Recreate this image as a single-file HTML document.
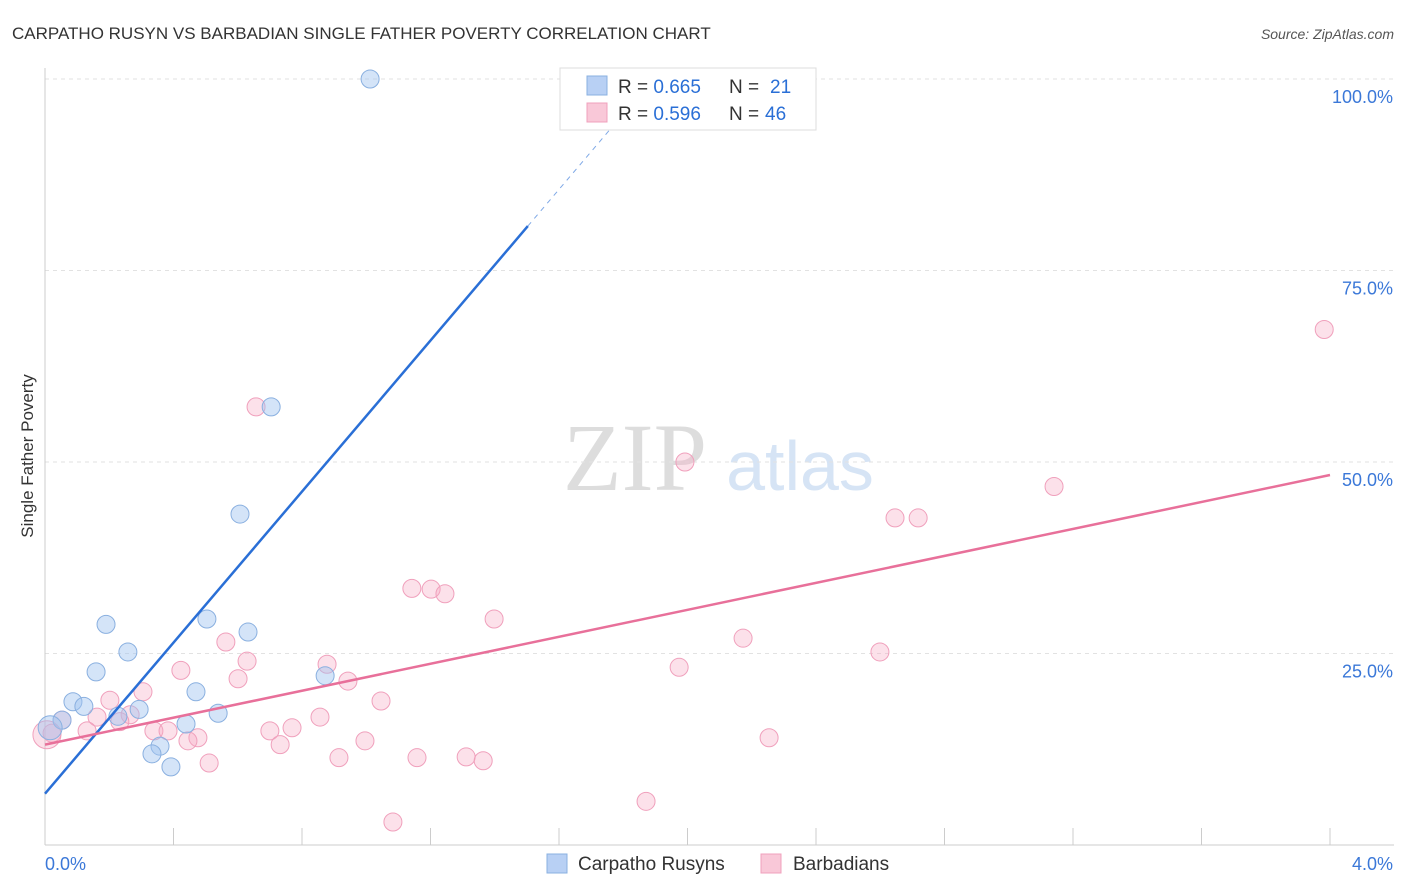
<!DOCTYPE html>
<html><head><meta charset="utf-8">
<style>
body{margin:0;background:#fff;font-family:"Liberation Sans",sans-serif;}
svg{display:block}
</style></head>
<body>
<svg id="chart" width="1406" height="892" xmlns="http://www.w3.org/2000/svg">
  <text x="12" y="39" font-size="17" fill="#333">CARPATHO RUSYN VS BARBADIAN SINGLE FATHER POVERTY CORRELATION CHART</text>
  <text x="1394" y="39" font-size="14" fill="#555" font-style="italic" text-anchor="end">Source: ZipAtlas.com</text>
  <text x="33" y="456" font-size="17" fill="#333" text-anchor="middle" transform="rotate(-90 33 456)">Single Father Poverty</text>
  <g>
    <text x="635" y="490" font-size="96" fill="#ddd" font-family="Liberation Serif,serif" text-anchor="middle">ZIP</text>
    <text x="800" y="490" font-size="70" fill="#d6e4f5" text-anchor="middle">atlas</text>
  </g>
  <g id="grid"></g>
  <g id="axes"></g>
  <g id="points"></g>
  <g id="lines"></g>
  <g>
    <rect x="560" y="68" width="256" height="62" fill="#fff" stroke="#ddd"/>
    <rect x="587" y="76" width="20" height="19" fill="#b8d0f4" stroke="#8ab0e0"/>
    <rect x="587" y="103" width="20" height="19" fill="#f9c8d8" stroke="#f0a0bc"/>
    <text x="618" y="93" font-size="19" fill="#333">R = <tspan fill="#2a6fd6">0.665</tspan><tspan x="729">N = </tspan><tspan x="770" fill="#2a6fd6">21</tspan></text>
    <text x="618" y="120" font-size="19" fill="#333">R = <tspan fill="#2a6fd6">0.596</tspan><tspan x="729">N = </tspan><tspan x="765" fill="#2a6fd6">46</tspan></text>
  </g>
  <g>
    <rect x="547" y="854" width="20" height="19" fill="#b8d0f4" stroke="#8ab0e0"/>
    <text x="578" y="870" font-size="19" fill="#333">Carpatho Rusyns</text>
    <rect x="761" y="854" width="20" height="19" fill="#f9c8d8" stroke="#f0a0bc"/>
    <text x="793" y="870" font-size="19" fill="#333">Barbadians</text>
  </g>
</svg>
<script>
const rusynX=[1.012,0.704,0.607,0.190,0.504,0.632,0.258,0.159,0.087,0.121,0.053,0.293,0.227,0.470,0.872,0.539,0.439,0.358,0.333,0.392,0.016];
const rusynY=[100,57.2,43.2,28.8,29.5,27.8,25.2,22.6,18.7,18.1,16.3,17.7,16.8,20.0,22.1,17.2,15.8,12.9,11.9,10.2,15.3];
const barbX=[3.982,1.992,3.141,2.646,2.718,1.142,1.202,1.245,1.398,0.657,0.563,2.173,2.599,1.974,0.629,0.423,0.878,0.601,0.943,0.305,0.202,1.046,0.162,0.265,0.856,0.769,0.700,0.339,0.383,0.476,0.445,0.732,0.996,2.254,0.915,1.158,1.311,1.364,0.511,1.871,1.083,0.053,0.022,0.006,0.131,0.233];
const barbY=[67.3,50.0,46.8,42.7,42.7,33.5,33.4,32.8,29.5,57.2,26.5,27.0,25.2,23.2,24.0,22.8,23.6,21.7,21.4,20.0,18.9,18.8,16.7,17.0,16.7,15.3,14.9,14.9,14.9,14.0,13.6,13.1,13.6,14.0,11.4,11.4,11.5,11.0,10.7,5.7,3.0,16.3,14.6,14.4,14.9,16.1];
const rusynLine=[6.7,80.8,1.503];
const barbLine=[13.1,48.3,4.0];
const yTicks=[25,50,75,100];
const xTickLabels=["0.0%","4.0%"];

const NS="http://www.w3.org/2000/svg";
const X=v=>45+v/0.4*128.5;
const Y=v=>845-v*7.66;
function mk(tag,attrs,parent){const e=document.createElementNS(NS,tag);for(const k in attrs)e.setAttribute(k,attrs[k]);document.getElementById(parent).appendChild(e);return e;}

yTicks.forEach(t=>{
  const l=mk('line',{x1:45,x2:1394,y1:Y(t),y2:Y(t),stroke:'#e2e2e2','stroke-dasharray':'4,4'},'grid');
  
  
  const tx=mk('text',{x:1393,y:Y(t)+24,'font-size':18,fill:'#3b78d8','text-anchor':'end'},'grid');
  tx.textContent=t.toFixed(1)+'%';
  
  
});
const ax=mk('line',{x1:45,x2:45,y1:68,y2:845,stroke:'#ccc'},'axes');


const bx=mk('line',{x1:45,x2:1394,y1:845,y2:845,stroke:'#ccc'},'axes');


for(let i=1;i<=10;i++){
  const t=mk('line',{x1:X(i*0.4),x2:X(i*0.4),y1:828,y2:845,stroke:'#ccc'},'axes');
  
  
}
[[0,'start',45],[4,'end',1393]].forEach((d,i)=>{
  const t=mk('text',{x:d[2],y:870,'font-size':18,fill:'#3b78d8','text-anchor':d[1]},'axes');
  t.textContent=xTickLabels[i];
  
  
});
function reg(p,full,col,name){
  const yAt=x=>p[0]+(p[1]-p[0])*x/p[2];
  const l=mk('line',{x1:X(0),y1:Y(p[0]),x2:X(p[2]),y2:Y(p[1]),stroke:col,'stroke-width':2.5},'lines');
  
  
  if(full>p[2]){
    const d=mk('line',{x1:X(p[2]),y1:Y(p[1]),x2:X(full),y2:Y(yAt(full)),stroke:col,'stroke-width':1,'stroke-dasharray':'5,5',opacity:0.6},'lines');
    
    
  }
}
barbX.forEach((x,i)=>{
  const big=(i===43);
  const c=mk('circle',{cx:X(x),cy:Y(barbY[i]),r:big?14:9,fill:'rgba(245,170,195,0.35)',stroke:'#f0a0bc','stroke-width':1},'points');
  
  
});
rusynX.forEach((x,i)=>{
  const big=(i===20);
  const c=mk('circle',{cx:X(x),cy:Y(rusynY[i]),r:big?12:9,fill:'rgba(160,195,240,0.45)',stroke:'#8ab0e0','stroke-width':1},'points');
  
  
});
reg(rusynLine,1.83,'#2a6fd6','rusyn-trendline');
reg(barbLine,4.0,'#e8709a','barbadian-trendline');
</script>
</body></html>
